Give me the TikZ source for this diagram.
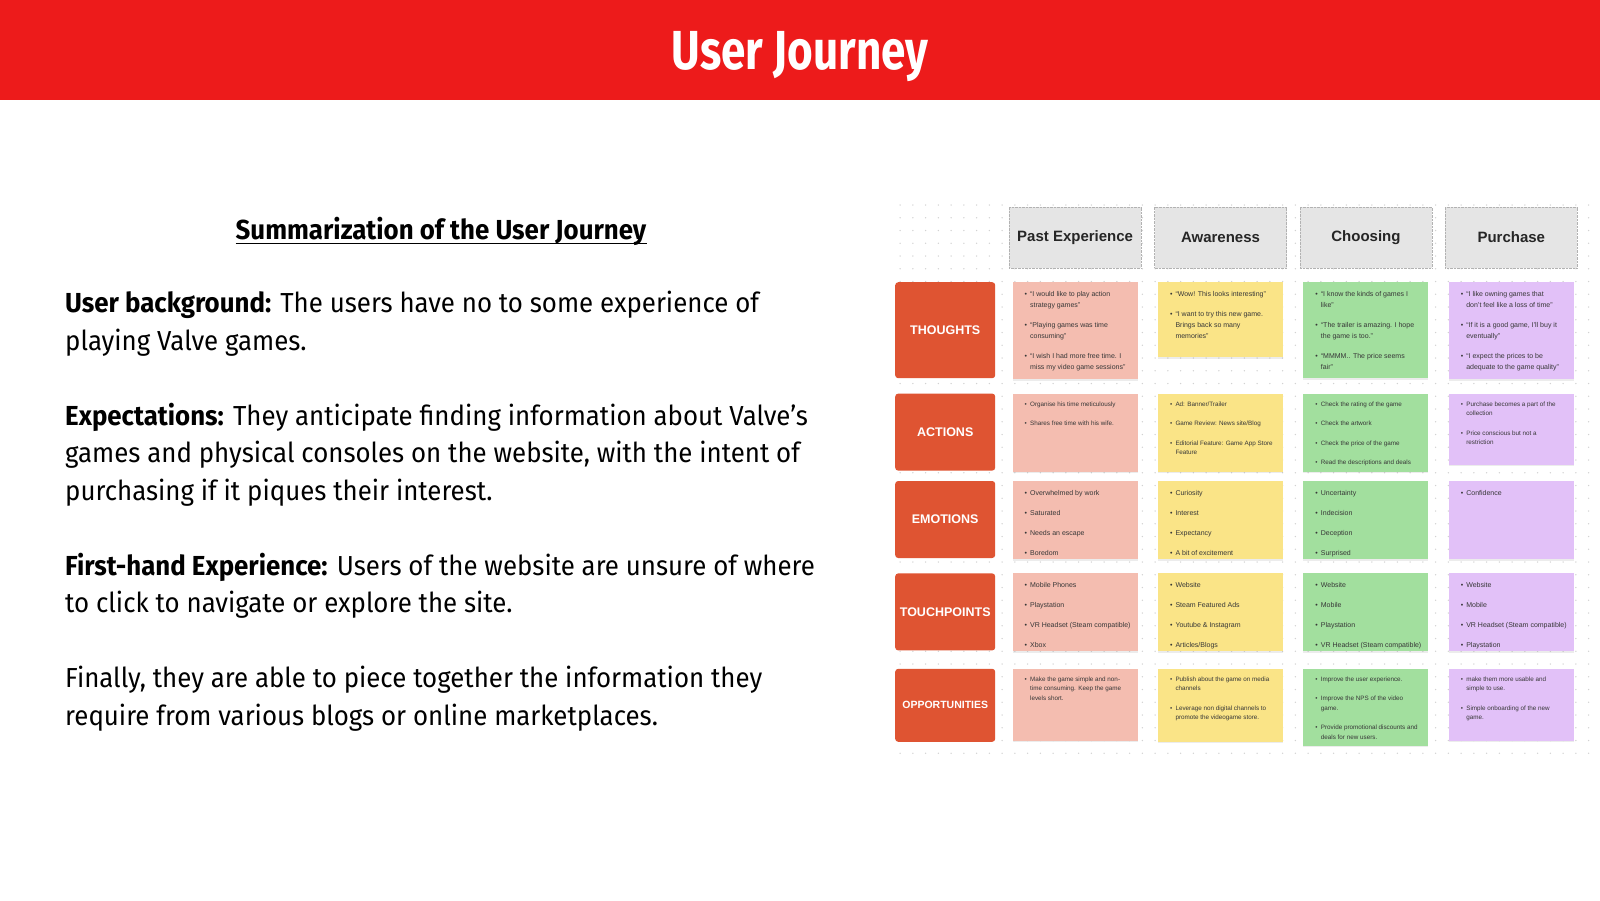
\documentclass[tikz,border=0pt]{standalone}
\usepackage{fontspec}
\setmainfont{Fira Sans}[FakeStretch=0.94]
\newfontfamily\titlefont{Fira Sans}[FakeStretch=0.8]
\newfontfamily\boardfont{Liberation Sans}
\usetikzlibrary{positioning,shadows}

\definecolor{bannerred}{RGB}{237,27,27}
\definecolor{labred}{RGB}{223,84,50}
\definecolor{pastc}{RGB}{244,189,176}
\definecolor{awarec}{RGB}{250,228,135}
\definecolor{choosec}{RGB}{162,223,158}
\definecolor{buyc}{RGB}{226,193,248}
\definecolor{dotc}{RGB}{210,210,210}
\definecolor{inkc}{RGB}{55,55,55}

% one bullet point on a sticky note
\newcommand{\bitem}[1]{\par\hangindent=5.5pt\hangafter=1\noindent\hbox to 5.5pt{\textbullet\hfil}#1\par}
\newcommand{\cardbig}{\fontsize{7}{11}\selectfont\setlength{\parskip}{9pt}\vspace*{0pt}}
\newcommand{\cardsmall}{\fontsize{6.3}{9.5}\selectfont\setlength{\parskip}{10pt}\vspace*{-2pt}}
\newcommand{\cardbody}[3]{\parbox[t][#1][t]{125pt}{#2\leftskip=12pt\rightskip=0pt plus 1fil\relax #3}}

\tikzset{
    rowlab/.style = {anchor=north west, fill=labred, rounded corners=3pt,
                 minimum width=100pt, text=white,
                 font=\boardfont\bfseries\fontsize{12.5}{14}\selectfont},
    stage/.style = {draw=gray!60, densely dotted, fill=gray!20,
                 minimum width=132pt, minimum height=61pt, text=black!85,
                 font=\boardfont\bfseries\fontsize{15}{18}\selectfont},
    card/.style = {anchor=north west, fill=#1, inner sep=0pt, text=inkc, font=\boardfont,
                 drop shadow={shadow xshift=0pt, shadow yshift=-1.5pt, opacity=0.15}},
}

\begin{document}
\begin{tikzpicture}[x=1pt,y=-1pt]
\useasboundingbox (0,0) rectangle (1600,900);
\fill[white] (0,0) rectangle (1600,900);
\fill[bannerred] (0,0) rectangle (1600,100);
\node (title) [anchor=base, text=white, font=\titlefont\fontsize{55}{60}\selectfont\bfseries] at (800,69) {User Journey};

% left column
\node (summary) [anchor=base, inner sep=0pt, font=\fontsize{27.5}{33}\selectfont\bfseries] at (441,239) {Summarization of the User Journey};
\draw[line width=1.8pt] ([yshift=-4.5pt]summary.base west) -- ([yshift=-4.5pt]summary.base east);
\node (story) [anchor=north west, align=left, inner sep=0pt, font=\fontsize{27.5}{37.5}\selectfont] at (65,291) {%
\textbf{User background:} The users have no to some experience of\\
playing Valve games.\\[37.5pt]
\textbf{Expectations:} They anticipate finding information about Valve's\\
games and physical consoles on the website, with the intent of\\
purchasing if it piques their interest.\\[37.5pt]
\textbf{First-hand Experience:} Users of the website are unsure of where\\
to click to navigate or explore the site.\\[37.5pt]
Finally, they are able to piece together the information they\\
require from various blogs or online marketplaces.};

% dotted board
\foreach \i in {0,...,54}
  \foreach \j in {0,...,43}
    \fill[dotc] (900+12.75*\i, 205+12.75*\j) circle (0.75pt);

% row labels
\node (thought) [rowlab, minimum height=96pt] at (895,282) {THOUGHTS};
\node (action) [below=15pt of thought.south west, rowlab, minimum height=77pt] {ACTIONS};
\node (emotion) [below=10pt of action.south west, rowlab, minimum height=77pt] {EMOTIONS};
\node (touch) [below=15pt of emotion.south west, rowlab, minimum height=77pt] {TOUCHPOINTS};
\node (opp) [below=18pt of touch.south west, rowlab, minimum height=73pt, font=\boardfont\bfseries\fontsize{10.5}{12}\selectfont] {OPPORTUNITIES};

% thoughts
\node (thought1) [right=17pt of thought.north east, card=pastc] {\cardbody{97pt}{\cardbig}{%
\bitem{“I would like to play action\\ strategy games”}
\bitem{“Playing games was time\\ consuming”}
\bitem{“I wish I had more free time. I\\ miss my video game sessions”}}};
\node (thought2) [right=20pt of thought1.north east, card=awarec] {\cardbody{75pt}{\cardbig}{%
\bitem{“Wow! This looks interesting”}
\bitem{“I want to try this new game.\\ Brings back so many\\ memories”}}};
\node (thought3) [right=20pt of thought2.north east, card=choosec] {\cardbody{96pt}{\cardbig}{%
\bitem{“I know the kinds of games I\\ like”}
\bitem{“The trailer is amazing. I hope\\ the game is too.”}
\bitem{“MMMM.. The price seems\\ fair”}}};
\node (thought4) [right=20pt of thought3.north east, card=buyc] {\cardbody{97pt}{\cardbig}{%
\bitem{“I like owning games that\\ don’t feel like a loss of time”}
\bitem{“If it is a good game, I’ll buy it\\ eventually”}
\bitem{“I expect the prices to be\\ adequate to the game quality”}}};

% actions
\node (action1) [right=17pt of action.north east, card=pastc] {\cardbody{78pt}{\cardsmall}{%
\bitem{Organise his time meticulously}
\bitem{Shares free time with his wife.}}};
\node (action2) [right=20pt of action1.north east, card=awarec] {\cardbody{78pt}{\cardsmall}{%
\bitem{Ad: Banner/Trailer}
\bitem{Game Review: News site/Blog}
\bitem{Editorial Feature: Game App Store\\ Feature}}};
\node (action3) [right=20pt of action2.north east, card=choosec] {\cardbody{78pt}{\cardsmall}{%
\bitem{Check the rating of the game}
\bitem{Check the artwork}
\bitem{Check the price of the game}
\bitem{Read the descriptions and deals}}};
\node (action4) [right=20pt of action3.north east, card=buyc] {\cardbody{71pt}{\cardsmall}{%
\bitem{Purchase becomes a part of the\\ collection}
\bitem{Price conscious but not a\\ restriction}}};

% emotions
\node (emotion1) [right=17pt of emotion.north east, card=pastc] {\cardbody{78pt}{\cardbig}{%
\bitem{Overwhelmed by work}
\bitem{Saturated}
\bitem{Needs an escape}
\bitem{Boredom}}};
\node (emotion2) [right=20pt of emotion1.north east, card=awarec] {\cardbody{78pt}{\cardbig}{%
\bitem{Curiosity}
\bitem{Interest}
\bitem{Expectancy}
\bitem{A bit of excitement}}};
\node (emotion3) [right=20pt of emotion2.north east, card=choosec] {\cardbody{78pt}{\cardbig}{%
\bitem{Uncertainty}
\bitem{Indecision}
\bitem{Deception}
\bitem{Surprised}}};
\node (emotion4) [right=20pt of emotion3.north east, card=buyc] {\cardbody{78pt}{\cardbig}{%
\bitem{Confidence}}};

% touchpoints
\node (touch1) [right=17pt of touch.north east, card=pastc] {\cardbody{78pt}{\cardbig}{%
\bitem{Mobile Phones}
\bitem{Playstation}
\bitem{VR Headset (Steam compatible)}
\bitem{Xbox}}};
\node (touch2) [right=20pt of touch1.north east, card=awarec] {\cardbody{78pt}{\cardbig}{%
\bitem{Website}
\bitem{Steam Featured Ads}
\bitem{Youtube \& Instagram}
\bitem{Articles/Blogs}}};
\node (touch3) [right=20pt of touch2.north east, card=choosec] {\cardbody{78pt}{\cardbig}{%
\bitem{Website}
\bitem{Mobile}
\bitem{Playstation}
\bitem{VR Headset (Steam compatible)}}};
\node (touch4) [right=20pt of touch3.north east, card=buyc] {\cardbody{78pt}{\cardbig}{%
\bitem{Website}
\bitem{Mobile}
\bitem{VR Headset (Steam compatible)}
\bitem{Playstation}}};

% opportunities
\node (opp1) [right=17pt of opp.north east, card=pastc] {\cardbody{72pt}{\cardsmall}{%
\bitem{Make the game simple and non-\\time consuming. Keep the game\\ levels short.}}};
\node (opp2) [right=20pt of opp1.north east, card=awarec] {\cardbody{73pt}{\cardsmall}{%
\bitem{Publish about the game on media\\ channels}
\bitem{Leverage non digital channels to\\ promote the videogame store.}}};
\node (opp3) [right=20pt of opp2.north east, card=choosec] {\cardbody{77pt}{\cardsmall}{%
\bitem{Improve the user experience.}
\bitem{Improve the NPS of the video\\ game.}
\bitem{Provide promotional discounts and\\ deals for new users.}}};
\node (opp4) [right=20pt of opp3.north east, card=buyc] {\cardbody{72pt}{\cardsmall}{%
\bitem{make them more usable and\\ simple to use.}
\bitem{Simple onboarding of the new\\ game.}}};

% stage headers
\node (past) [above=14pt of thought1.north, stage] {Past Experience};
\node (aware) [above=14pt of thought2.north, stage] {Awareness};
\node (choose) [above=14pt of thought3.north, stage] {Choosing};
\node (buy) [above=14pt of thought4.north, stage] {Purchase};
\end{tikzpicture}
\end{document}
